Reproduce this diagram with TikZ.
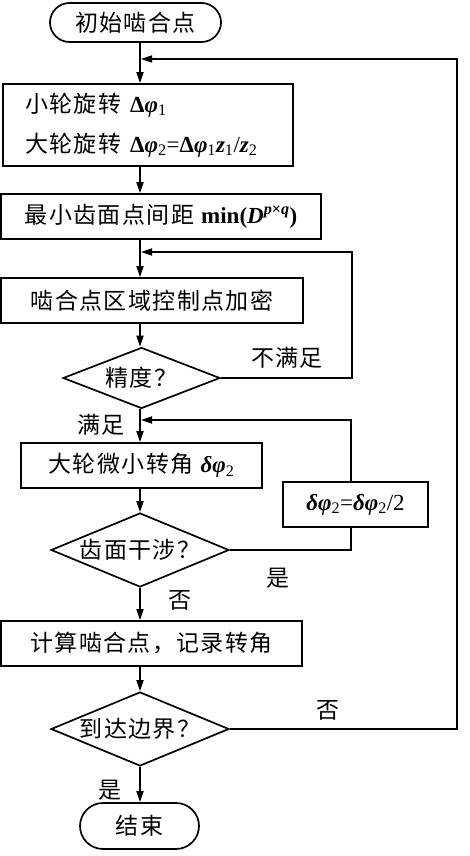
\documentclass[tikz,border=0pt]{standalone}
\usepackage{fontspec}
\setmainfont{Liberation Serif}
\newfontfamily\cjk[LetterSpace=6]{Noto Sans CJK SC}
\usetikzlibrary{arrows.meta,shapes.geometric,shapes.misc}
\newcommand\fs{\fontsize{23}{40}\selectfont}
\newcommand\phib{\textbf{\textit{φ}}}
\newcommand\Db{\textbf{Δ}}
\newcommand\db{\textbf{\textit{δ}}}
\newcommand\zb{\textbf{\textit{z}}}
\newcommand\sub[1]{\textsubscript{#1}}
\begin{document}
\begin{tikzpicture}[x=1pt,y=-1pt,
  line width=1.7pt,
  box/.style={draw, rectangle, inner sep=0pt, font=\fs},
  dia/.style={draw, diamond, inner sep=0pt},
  term/.style={draw, rounded rectangle, inner sep=0pt, font=\fs},
  arr/.style={-{Triangle[length=11pt,width=7pt]}},
  lab/.style={font=\fs\cjk, inner sep=0pt}]
\fill[white] (0,0) rectangle (469,856);
\useasboundingbox (0,0) rectangle (469,856);
\coordinate (axis) at (140,0);
\node[term, minimum width=171pt, minimum height=39pt] (start) at (135.5,22.5) {\cjk 初始啮合点};
\node[box, minimum width=290pt, minimum height=82pt, text width=246pt, align=left] (b1) at (148,125)
  {{\cjk 小轮旋转} \Db\phib\sub{1}\\{\cjk 大轮旋转} \Db\phib\sub{2}=\Db\phib\sub{1}\zb\sub{1}/\zb\sub{2}};
\node[box, minimum width=320pt, minimum height=45pt] (b2) at (161,216.5)
  {{\cjk 最小齿面点间距} \textbf{min(\textit{D}\textsuperscript{\textit{p}×\textit{q}})}};
\node[box, minimum width=302pt, minimum height=45pt] (b3) at (152,300.5) {\cjk 啮合点区域控制点加密};
\node[dia, minimum width=157pt, minimum height=61pt] (d1) at (141.5,378) {};
\node[lab] (d1t) at (d1.center) {精度？};
\node[box, minimum width=241pt, minimum height=45pt] (b4) at (141.5,465.5) {{\cjk 大轮微小转角} \db\phib\sub{2}};
\node[box, minimum width=145pt, minimum height=45pt] (bd) at (355.5,504.5) {\db\phib\sub{2}=\db\phib\sub{2}/2};
\node[dia, minimum width=178pt, minimum height=74pt] (d2) at (140,550) {};
\node[lab] (d2t) at (d2.center) {齿面干涉？};
\node[box, minimum width=301pt, minimum height=45pt] (b5) at (151.5,643.5) {\cjk 计算啮合点，记录转角};
\node[dia, minimum width=178pt, minimum height=74pt] (d3) at (140,729) {};
\node[lab] (d3t) at (d3.center) {到达边界？};
\node[term, minimum width=119pt, minimum height=46pt] (end) at (139.5,826) {\cjk 结束};
% main flow
\draw[arr] (axis|-start.south) -- (axis|-b1.north);
\draw[arr] (axis|-b1.south) -- (axis|-b2.north);
\draw[arr] (axis|-b2.south) -- (axis|-b3.north);
\draw[arr] (axis|-b3.south) -- (axis|-d1.north);
\draw[arr] (axis|-d1.south) -- (axis|-b4.north);
\draw[arr] (axis|-b4.south) -- (d2.north);
\draw[arr] (d2.south) -- (axis|-b5.north);
\draw[arr] (axis|-b5.south) -- (d3.north);
\draw[arr] (d3.south) -- (axis|-end.north);
% loops
\coordinate (j1) at (141,59);
\coordinate (r1) at (457,59);
\draw[arr] (d3.east) -| (r1) -- (j1);
\coordinate (j2) at (141,252);
\coordinate (r2) at (352,252);
\draw[arr] (d1.east) -| (r2) -- (j2);
\coordinate (bx) at (351,0);
\coordinate (j3) at (141,420);
\draw (d2.east) -| (bx|-bd.south);
\draw[arr] (bx|-bd.north) |- (j3);
% labels
\node[lab] (l1) at (287,358) {不满足};
\node[lab] (l2) at (101,425) {满足};
\node[lab] (l3) at (278,578) {是};
\node[lab] (l4) at (180,600) {否};
\node[lab] (l5) at (328,710) {否};
\node[lab] (l6) at (110,790) {是};
\end{tikzpicture}
\end{document}
